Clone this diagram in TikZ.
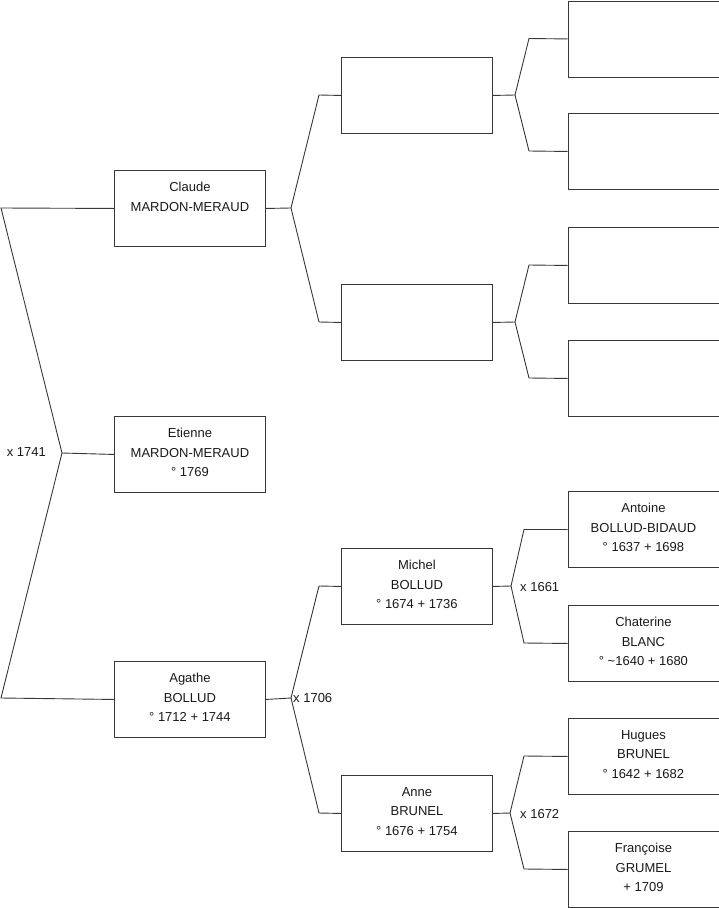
\documentclass[tikz,border=0pt]{standalone}
\usepackage{fontspec}
\setmainfont{Liberation Sans}
\begin{document}
\begin{tikzpicture}[x=1pt,y=-1pt,
  pbox/.style={draw=black!78, line width=0.9pt, minimum width=151pt, minimum height=76pt, anchor=north west, inner sep=0pt},
  ptext/.style={anchor=north, align=center, inner sep=0pt, text=black!90, font=\fontsize{13}{19.5}\selectfont},
  link/.style={draw=black!78, line width=0.9pt},
  mlabel/.style={inner sep=0pt, text=black!90, font=\fontsize{13}{15}\selectfont}]
\useasboundingbox (0,0) rectangle (719,908);
% level 1
\node[pbox] (claude) at (114,170) {};
\node[ptext] (claudeT) at ([yshift=-12.3pt]claude.north) {Claude\\MARDON-MERAUD};
\node[pbox] (etienne) at (114,416) {};
\node[ptext] (etienneT) at ([yshift=-12.3pt]etienne.north) {Etienne\\MARDON-MERAUD\\° 1769};
\node[pbox] (agathe) at (114,661) {};
\node[ptext] (agatheT) at ([yshift=-12.3pt]agathe.north) {Agathe\\BOLLUD\\° 1712 + 1744};
% level 2
\node[pbox] (pa) at (341,57) {};
\node[pbox] (pb) at (341,284) {};
\node[pbox] (michel) at (341,548) {};
\node[ptext] (michelT) at ([yshift=-12.3pt]michel.north) {Michel\\BOLLUD\\° 1674 + 1736};
\node[pbox] (anne) at (341,775) {};
\node[ptext] (anneT) at ([yshift=-12.3pt]anne.north) {Anne\\BRUNEL\\° 1676 + 1754};
% level 3
\node[pbox] (q1) at (567.5,0.5) {};
\node[pbox] (q2) at (567.5,113) {};
\node[pbox] (q3) at (567.5,227) {};
\node[pbox] (q4) at (567.5,340) {};
\node[pbox] (antoine) at (567.5,491) {};
\node[ptext] (antoineT) at ([yshift=-12.3pt]antoine.north) {Antoine\\BOLLUD-BIDAUD\\° 1637 + 1698};
\node[pbox] (chaterine) at (567.5,605) {};
\node[ptext] (chaterineT) at ([yshift=-12.3pt]chaterine.north) {Chaterine\\BLANC\\° \textasciitilde 1640 + 1680};
\node[pbox] (hugues) at (567.5,718) {};
\node[ptext] (huguesT) at ([yshift=-12.3pt]hugues.north) {Hugues\\BRUNEL\\° 1642 + 1682};
\node[pbox] (francoise) at (567.5,831) {};
\node[ptext] (francoiseT) at ([yshift=-12.3pt]francoise.north) {Françoise\\GRUMEL\\+ 1709};
% fork points
\coordinate (f0) at (62,453);
\coordinate (c0a) at (1,208);
\coordinate (c0b) at (1,698);
\coordinate (f1) at (291,208);
\coordinate (c1a) at (319,95);
\coordinate (c1b) at (319,322);
\coordinate (f2) at (291,698);
\coordinate (c2a) at (319,586);
\coordinate (c2b) at (319,813);
\coordinate (fa) at (515,95);
\coordinate (caa) at (529,38.5);
\coordinate (cab) at (529,151);
\coordinate (fb) at (515,322);
\coordinate (cba) at (529,265);
\coordinate (cbb) at (529,378);
\coordinate (fm) at (511,586);
\coordinate (cma) at (524,529.5);
\coordinate (cmb) at (524,643);
\coordinate (fn) at (510,813);
\coordinate (cna) at (524,756);
\coordinate (cnb) at (524,869);
% connectors
\draw[link] (etienne.west) -- (f0);
\draw[link] (f0) -- (c0a) -- (claude.west);
\draw[link] (f0) -- (c0b) -- (agathe.west);
\draw[link] (claude.east) -- (f1);
\draw[link] (f1) -- (c1a) -- (pa.west);
\draw[link] (f1) -- (c1b) -- (pb.west);
\draw[link] (agathe.east) -- (f2);
\draw[link] (f2) -- (c2a) -- (michel.west);
\draw[link] (f2) -- (c2b) -- (anne.west);
\draw[link] (pa.east) -- (fa);
\draw[link] (fa) -- (caa) -- (q1.west);
\draw[link] (fa) -- (cab) -- (q2.west);
\draw[link] (pb.east) -- (fb);
\draw[link] (fb) -- (cba) -- (q3.west);
\draw[link] (fb) -- (cbb) -- (q4.west);
\draw[link] (michel.east) -- (fm);
\draw[link] (fm) -- (cma) -- (antoine.west);
\draw[link] (fm) -- (cmb) -- (chaterine.west);
\draw[link] (anne.east) -- (fn);
\draw[link] (fn) -- (cna) -- (hugues.west);
\draw[link] (fn) -- (cnb) -- (francoise.west);
% marriage labels
\node[mlabel, anchor=east] (m0) at (46,452) {x 1741};
\node[mlabel, anchor=west] (m2) at (293,698) {x 1706};
\node[mlabel, anchor=west] (mm) at (520,587) {x 1661};
\node[mlabel, anchor=west] (mn) at (520,814) {x 1672};
\end{tikzpicture}
\end{document}
